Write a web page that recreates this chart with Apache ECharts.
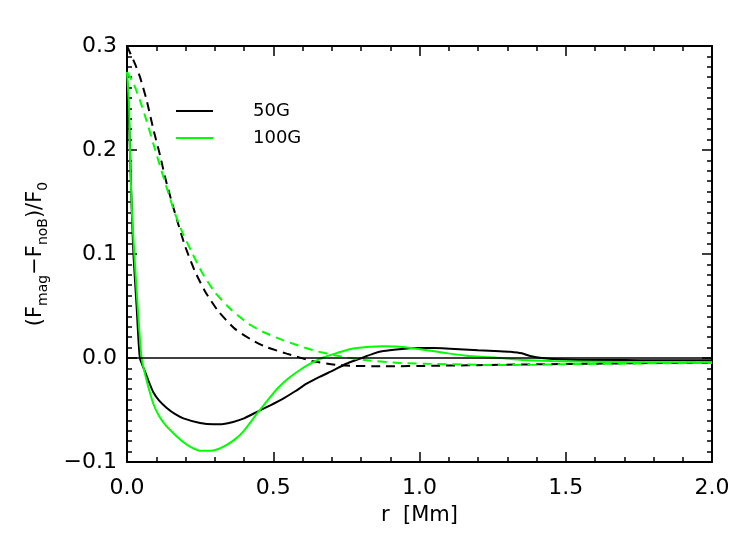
<!DOCTYPE html>
<html>
<head>
<meta charset="utf-8">
<script src="https://cdn.jsdelivr.net/npm/echarts@6/dist/echarts.min.js"></script>
<style>
  html, body { margin: 0; padding: 0; background: #fff; }
  #chart { width: 748px; height: 548px; }
</style>
</head>
<body>
<div id="chart"></div>
<script>
// values
const xTicks = [0, 0.5, 1.0, 1.5, 2.0]
const yTicks = [-0.1, 0.0, 0.1, 0.2, 0.3]

// 50G solid
const r50 = [0, 0.008, 0.016, 0.022, 0.033, 0.044, 0.06, 0.073, 0.09, 0.11, 0.136, 0.165, 0.193, 0.25, 0.295, 0.33, 0.363, 0.4, 0.443, 0.49, 0.534, 0.575, 0.614, 0.66, 0.705, 0.75, 0.797, 0.84, 0.876, 0.93, 0.99, 1.05, 1.104, 1.2, 1.275, 1.31, 1.35, 1.378, 1.418, 1.5, 1.6, 1.7, 1.8, 1.9, 2.0]
const f50 = [0.27, 0.22, 0.145, 0.1, 0.049, 0.0, -0.012, -0.0215, -0.033, -0.041, -0.048, -0.054, -0.058, -0.0625, -0.0638, -0.0635, -0.0615, -0.058, -0.052, -0.0455, -0.039, -0.032, -0.0247, -0.018, -0.0119, -0.0055, -0.0006, 0.004, 0.0067, 0.0085, 0.0096, 0.0095, 0.009, 0.0075, 0.0066, 0.006, 0.0045, 0.002, 0.0, -0.0015, -0.002, -0.002, -0.0022, -0.0022, -0.0022]

// 100G solid
const r100 = [0, 0.007, 0.01, 0.016, 0.025, 0.0365, 0.05, 0.067, 0.09, 0.11, 0.136, 0.165, 0.193, 0.22, 0.25, 0.284, 0.31, 0.341, 0.37, 0.398, 0.443, 0.48, 0.512, 0.55, 0.591, 0.63, 0.671, 0.72, 0.762, 0.82, 0.876, 0.93, 0.99, 1.05, 1.104, 1.161, 1.22, 1.275, 1.35, 1.45, 1.6, 1.8, 2.0]
const f100 = [0.275, 0.242, 0.2, 0.1455, 0.1, 0.0494, 0.0, -0.0215, -0.044, -0.056, -0.066, -0.074, -0.081, -0.086, -0.0892, -0.0893, -0.0877, -0.0835, -0.078, -0.0705, -0.054, -0.041, -0.03, -0.02, -0.0115, -0.005, 0.0005, 0.005, 0.0085, 0.0105, 0.0112, 0.0108, 0.009, 0.0065, 0.0042, 0.0022, 0.001, 0.0, -0.002, -0.003, -0.0035, -0.004, -0.004]

// 50G dashed
const r50d = [0, 0.027, 0.044, 0.067, 0.09, 0.113, 0.13, 0.153, 0.176, 0.198, 0.232, 0.267, 0.312, 0.369, 0.426, 0.472, 0.546, 0.637, 0.728, 0.876, 1.05, 1.275, 1.5, 1.75, 2.0]
const f50d = [0.3, 0.283, 0.2705, 0.248, 0.22, 0.195, 0.174, 0.15, 0.128, 0.108, 0.0835, 0.064, 0.045, 0.028, 0.0175, 0.011, 0.0042, -0.0032, -0.007, -0.008, -0.0075, -0.0065, -0.0058, -0.005, -0.0045]

// 100G dashed
const r100d = [0, 0.022, 0.044, 0.067, 0.09, 0.118, 0.141, 0.164, 0.192, 0.221, 0.255, 0.301, 0.358, 0.415, 0.466, 0.534, 0.637, 0.728, 0.82, 0.934, 1.05, 1.275, 1.5, 1.75, 2.0]
const f100d = [0.275, 0.264, 0.248, 0.228, 0.206, 0.18, 0.159, 0.139, 0.119, 0.102, 0.083, 0.063, 0.046, 0.033, 0.025, 0.017, 0.0074, 0.0016, -0.0022, -0.0048, -0.0057, -0.0068, -0.006, -0.0052, -0.0048]

const green = '#00ff00'
const font = 'DejaVu Sans'

function pairs (xs, ys) {
  return xs.map((x, i) => [x, ys[i]])
}

function fmt (v) {
  return v.toFixed(1).replace('-', '\u2212')
}

function xAxisOf (pos) {
  return {
    type: 'value',
    position: pos,
    min: xTicks[0],
    max: xTicks[xTicks.length - 1],
    interval: xTicks[1] - xTicks[0],
    axisLine: { show: true, onZero: false, lineStyle: { color: '#000', width: 2 } },
    axisTick: { show: true, inside: true, length: 10, lineStyle: { color: '#000', width: 1.5 } },
    minorTick: { show: true, splitNumber: 5, length: 5, lineStyle: { color: '#000', width: 1.5 } },
    splitLine: { show: false },
    axisLabel: {
      show: pos === 'bottom',
      fontFamily: font,
      fontSize: 22,
      color: '#000',
      margin: 15,
      formatter: fmt
    }
  }
}

function yAxisOf (pos) {
  return {
    type: 'value',
    position: pos,
    min: yTicks[0],
    max: yTicks[yTicks.length - 1],
    interval: yTicks[1] - yTicks[0],
    axisLine: { show: true, onZero: false, lineStyle: { color: '#000', width: 2 } },
    axisTick: { show: true, inside: true, length: 10, lineStyle: { color: '#000', width: 1.5 } },
    minorTick: { show: true, splitNumber: 10, length: 5, lineStyle: { color: '#000', width: 1.5 } },
    splitLine: { show: false },
    axisLabel: {
      show: pos === 'left',
      fontFamily: font,
      fontSize: 22,
      color: '#000',
      margin: 10,
      formatter: fmt
    }
  }
}

const chart = echarts.init(document.getElementById('chart'), null, { renderer: 'canvas' })

const xBottom = xAxisOf('bottom')
xBottom.name = 'r  [Mm]'
xBottom.nameLocation = 'middle'
xBottom.nameGap = 43
xBottom.nameTextStyle = { fontFamily: font, fontSize: 21, color: '#000' }

const yLeft = yAxisOf('left')
yLeft.name = '(F{s|mag}\u2212F{s|noB})/F{s|0}'
yLeft.nameLocation = 'middle'
yLeft.nameRotate = 90
yLeft.nameGap = 77
yLeft.nameTextStyle = {
  fontFamily: font,
  fontSize: 21,
  color: '#000',
  lineHeight: 28,
  rich: {
    s: { fontFamily: font, fontSize: 14, color: '#000', lineHeight: 14, verticalAlign: 'bottom' }
  }
}

function lineSeries (name, xs, ys, color, dashed) {
  return {
    name: name,
    type: 'line',
    data: pairs(xs, ys),
    showSymbol: false,
    smooth: 0.2,
    lineStyle: { color: color, width: 2, type: dashed ? [9, 6] : 'solid' },
    itemStyle: { color: color }
  }
}

const s50 = lineSeries('50G', r50, f50, '#000', false)
s50.markLine = {
  silent: true,
  symbol: 'none',
  label: { show: false },
  lineStyle: { color: '#000', width: 1.5, type: 'solid' },
  data: [{ yAxis: 0 }]
}

const option = {
  backgroundColor: '#fff',
  animation: false,
  grid: { left: 127, right: 36, top: 46, bottom: 86 },
  legend: {
    orient: 'vertical',
    left: 176,
    top: 102,
    padding: 0,
    icon: 'rect',
    itemWidth: 37,
    itemHeight: 2,
    itemGap: 9,
    data: ['50G', '100G'],
    textStyle: { fontFamily: font, fontSize: 18, color: '#000', lineHeight: 18, padding: [0, 0, 0, 35] }
  },
  xAxis: [xBottom, xAxisOf('top')],
  yAxis: [yLeft, yAxisOf('right')],
  series: [
    s50,
    lineSeries('50G dashed', r50d, f50d, '#000', true),
    lineSeries('100G', r100, f100, green, false),
    lineSeries('100G dashed', r100d, f100d, green, true)
  ]
}

chart.setOption(option)
</script>
</body>
</html>
